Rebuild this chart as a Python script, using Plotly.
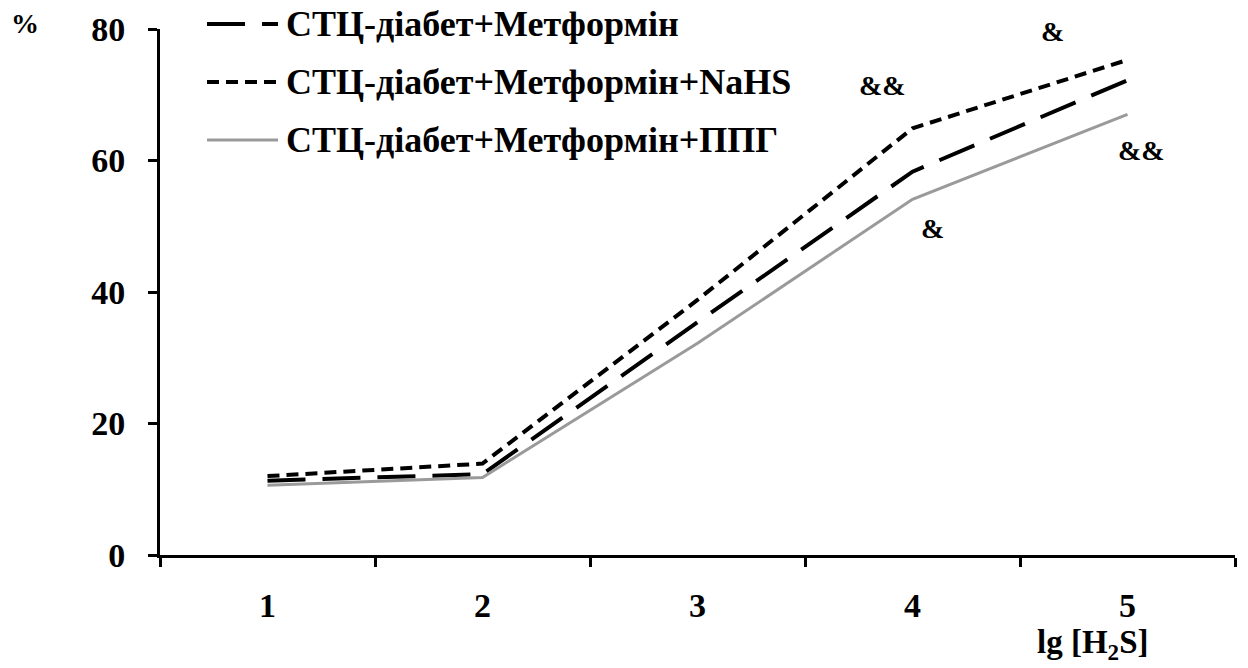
import plotly.graph_objects as go

# Concentration steps (lg [H2S]) and relaxation responses, %
categories = ["1", "2", "3", "4", "5"]
metformin = [11.3, 12.3, 35.4, 58.3, 72.2]
metformin_nahs = [12.0, 13.9, 38.8, 64.9, 75.3]
metformin_ppg = [10.6, 11.8, 32.2, 54.1, 67.0]

series_names = [
    "СТЦ-діабет+Метформін",
    "СТЦ-діабет+Метформін+NaHS",
    "СТЦ-діабет+Метформін+ППГ",
]

FONT = "Liberation Serif, Times New Roman, serif"
BLACK = "#000000"
GREY = "#9a9a9a"

styles = [
    dict(color=BLACK, width=4, dash="38px,17px"),
    dict(color=BLACK, width=4, dash="12px,7px"),
    dict(color=GREY, width=3, dash="solid"),
]
values = [metformin, metformin_nahs, metformin_ppg]

fig = go.Figure()
for name, vals, st in zip(series_names, values, styles):
    fig.add_trace(go.Scatter(
        x=categories, y=vals, mode="lines", name=name,
        line=st, showlegend=False,
    ))

# Plot-area geometry in pixels, used to place the hand-built legend
W, H = 1248, 668
PX_L, PX_R, PX_T, PX_B = 160, 1235, 29, 555


def px_x(p):
    return (p - PX_L) / (PX_R - PX_L)


def px_y(p):
    return (PX_B - p) / (PX_B - PX_T)


# Legend: sample line + label for every series
legend_rows_y = [24, 82, 140]
for name, st, ypix in zip(series_names, styles, legend_rows_y):
    fig.add_shape(type="line", xref="paper", yref="paper",
                  x0=px_x(207), x1=px_x(278), y0=px_y(ypix), y1=px_y(ypix),
                  line=st)
    fig.add_annotation(text=f"<b>{name}</b>", xref="paper", yref="paper",
                       x=px_x(284), y=px_y(ypix),
                       xanchor="left", yanchor="middle", showarrow=False,
                       font=dict(family=FONT, size=36, color=BLACK))

# Significance marks next to the points
marks = [
    ("&", "5", metformin_nahs[4], -75, 28),
    ("&&", "4", metformin_nahs[3], -30, 43),
    ("&", "4", metformin_ppg[3], 20, -29),
    ("&&", "5", metformin_ppg[4], 14, -36),
]
for txt, xc, yv, dx, dy in marks:
    fig.add_annotation(text=f"<b>{txt}</b>", x=categories.index(xc), y=yv,
                       xref="x", yref="y",
                       xshift=dx, yshift=dy, showarrow=False,
                       font=dict(family=FONT, size=28, color=BLACK))

# Axis captions
fig.add_annotation(text="<b>%</b>", xref="paper", yref="paper",
                   x=px_x(25), y=px_y(23),
                   xanchor="center", yanchor="middle", showarrow=False,
                   font=dict(family=FONT, size=28, color=BLACK))
fig.add_annotation(text="<b>lg [H<sub>2</sub>S]</b>", xref="paper", yref="paper",
                   x=px_x(1092), y=px_y(644),
                   xanchor="center", yanchor="middle", showarrow=False,
                   font=dict(family=FONT, size=33, color=BLACK))

fig.update_layout(
    width=W, height=H,
    margin=dict(l=PX_L, r=W - PX_R, t=PX_T, b=H - PX_B),
    paper_bgcolor="white", plot_bgcolor="white",
    font=dict(family=FONT, color=BLACK),
    showlegend=False,
)
fig.update_xaxes(
    type="category", range=[-0.5, 4.5],
    tickson="boundaries", ticks="outside", ticklen=9, tickwidth=3, tickcolor=BLACK,
    showline=True, linewidth=3, linecolor=BLACK, showgrid=False, zeroline=False,
    tickfont=dict(family=FONT, size=34, color=BLACK, weight="bold"),
    ticklabelstandoff=18,
)
fig.update_yaxes(
    range=[0, 80], tickvals=[0, 20, 40, 60, 80],
    ticks="outside", ticklen=9, tickwidth=3, tickcolor=BLACK,
    showline=True, linewidth=3, linecolor=BLACK, showgrid=False, zeroline=False,
    tickfont=dict(family=FONT, size=34, color=BLACK, weight="bold"),
    ticklabelstandoff=16,
)

fig.write_html("out.html")
